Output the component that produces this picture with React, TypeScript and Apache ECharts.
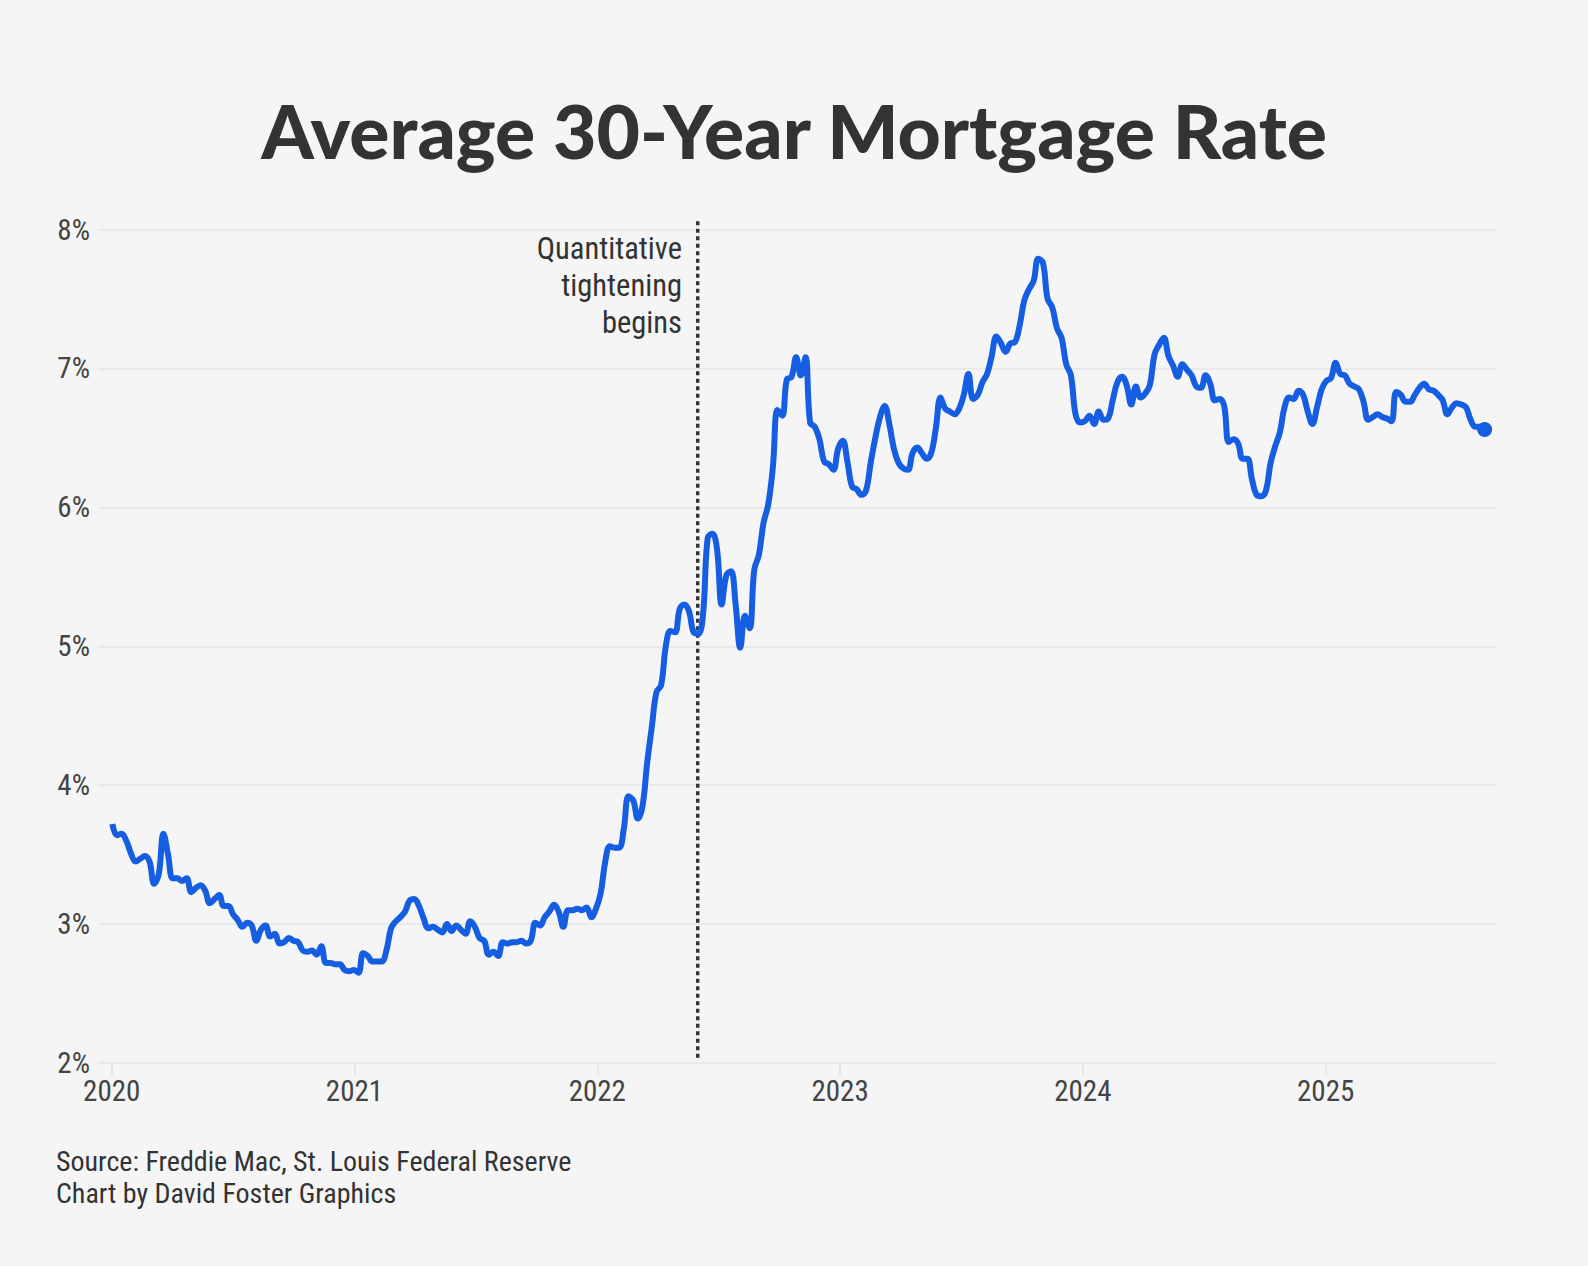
import React, { useEffect, useRef } from "react";
import * as echarts from "echarts";

// Freddie Mac PMMS weekly 30-year fixed rate (%), Thursdays starting 2020-01-02
const START_DATE = "2020-01-02";
const rates2020 = [3.72, 3.64, 3.65, 3.60, 3.51, 3.45, 3.47, 3.49, 3.45, 3.29, 3.36, 3.65, 3.50, 3.33, 3.33, 3.31, 3.33, 3.23, 3.26, 3.28, 3.24, 3.15, 3.18, 3.21, 3.13, 3.13, 3.07, 3.03, 2.98, 3.01, 2.99, 2.88, 2.96, 2.99, 2.91, 2.93, 2.86, 2.87, 2.90, 2.88, 2.87, 2.81, 2.80, 2.81, 2.78, 2.84, 2.72, 2.72, 2.71, 2.71, 2.67, 2.66, 2.67];
const rates2021 = [2.65, 2.79, 2.77, 2.73, 2.73, 2.73, 2.81, 2.97, 3.02, 3.05, 3.09, 3.17, 3.18, 3.13, 3.04, 2.97, 2.98, 2.96, 2.94, 3.00, 2.95, 2.99, 2.96, 2.93, 3.02, 2.98, 2.90, 2.88, 2.78, 2.80, 2.77, 2.87, 2.86, 2.87, 2.87, 2.88, 2.86, 2.88, 3.01, 2.99, 3.05, 3.09, 3.14, 3.09, 2.98, 3.10, 3.10, 3.11, 3.10, 3.12, 3.05, 3.11];
const rates2022 = [3.22, 3.45, 3.56, 3.55, 3.55, 3.69, 3.92, 3.89, 3.76, 3.85, 4.16, 4.42, 4.67, 4.72, 5.00, 5.11, 5.10, 5.27, 5.30, 5.25, 5.10, 5.09, 5.23, 5.78, 5.81, 5.70, 5.30, 5.51, 5.54, 5.30, 4.99, 5.22, 5.13, 5.55, 5.66, 5.89, 6.02, 6.29, 6.70, 6.66, 6.92, 6.94, 7.08, 6.95, 7.08, 6.61, 6.58, 6.49, 6.33, 6.31, 6.27, 6.42];
const rates2023 = [6.48, 6.33, 6.15, 6.13, 6.09, 6.12, 6.32, 6.50, 6.65, 6.73, 6.60, 6.42, 6.32, 6.28, 6.27, 6.39, 6.43, 6.39, 6.35, 6.39, 6.57, 6.79, 6.71, 6.69, 6.67, 6.71, 6.81, 6.96, 6.78, 6.81, 6.90, 6.96, 7.09, 7.23, 7.18, 7.12, 7.18, 7.19, 7.31, 7.49, 7.57, 7.63, 7.79, 7.76, 7.50, 7.44, 7.29, 7.22, 7.03, 6.95, 6.67, 6.61];
const rates2024 = [6.62, 6.66, 6.60, 6.69, 6.63, 6.64, 6.77, 6.90, 6.94, 6.88, 6.74, 6.87, 6.79, 6.82, 6.88, 7.10, 7.17, 7.22, 7.09, 7.02, 6.94, 7.03, 6.99, 6.95, 6.87, 6.86, 6.95, 6.89, 6.77, 6.78, 6.73, 6.47, 6.49, 6.46, 6.35, 6.35, 6.20, 6.09, 6.08, 6.12, 6.32, 6.44, 6.54, 6.72, 6.79, 6.78, 6.84, 6.81, 6.69, 6.60, 6.72, 6.85];
const rates2025 = [6.91, 6.93, 7.04, 6.96, 6.95, 6.89, 6.87, 6.85, 6.76, 6.63, 6.65, 6.67, 6.65, 6.64, 6.62, 6.83, 6.81, 6.76, 6.76, 6.81, 6.86, 6.89, 6.85, 6.84, 6.81, 6.77, 6.67, 6.72, 6.75, 6.74, 6.72, 6.63, 6.58, 6.58, 6.56];

const yearTicks = [2020, 2021, 2022, 2023, 2024, 2025];
const QT_DATE = "2022-06-01";
const QT_LINE_RANGE = [2.03, 8.06];
const QT_LABEL = "Quantitative\ntightening\nbegins";
const TITLE = "Average 30-Year Mortgage Rate";
const SOURCE_LINES = ["Source: Freddie Mac, St. Louis Federal Reserve", "Chart by David Foster Graphics"];

const X_MIN = 2019.9436;
const X_MAX = 2025.7016;

const BLUE = "#155ee2";
const LABEL_FONT = "'Roboto Condensed', 'Liberation Sans Narrow', 'DejaVu Sans Condensed', Roboto, sans-serif";

function decYear(t: number): number {
  const d = new Date(t);
  const y = d.getUTCFullYear();
  const s = Date.UTC(y, 0, 1);
  const e = Date.UTC(y + 1, 0, 1);
  return y + (t - s) / (e - s);
}

export default function App() {
  const ref = useRef<HTMLDivElement>(null);

  useEffect(() => {
    document.body.style.margin = "0";
    const rates = [...rates2020, ...rates2021, ...rates2022, ...rates2023, ...rates2024, ...rates2025];
    const t0 = Date.parse(START_DATE + "T00:00:00Z");
    const week = 7 * 86400000;
    const points = rates.map((r, i) => [decYear(t0 + i * week), r]);
    const last = points[points.length - 1];
    const qtX = decYear(Date.parse(QT_DATE + "T00:00:00Z"));

    const chart = echarts.init(ref.current as HTMLDivElement, null, { renderer: "svg" });
    chart.setOption({
      animation: false,
      backgroundColor: "#f5f5f5",
      title: {
        text: TITLE,
        left: "center",
        top: 87,
        textStyle: { fontFamily: "Lato, 'Noto Sans', sans-serif", fontWeight: 900, fontSize: 75, color: "#333333" },
      },
      grid: { left: 98, right: 92, top: 229.5, bottom: 203, containLabel: false },
      xAxis: {
        type: "value",
        min: X_MIN,
        max: X_MAX,
        axisLine: { show: false },
        splitLine: { show: false },
        axisTick: { show: true, customValues: yearTicks, length: 12, lineStyle: { color: "#e6e6e6", width: 2 } },
        axisLabel: {
          customValues: yearTicks,
          formatter: (v: number) => String(Math.round(v)),
          fontFamily: LABEL_FONT,
          fontSize: 29,
          color: "#444444",
          margin: 13,
        },
      },
      yAxis: {
        type: "value",
        min: 2,
        max: 8,
        interval: 1,
        axisLine: { show: false },
        axisTick: { show: false },
        splitLine: { lineStyle: { color: "#eaeaea", width: 2 } },
        axisLabel: { formatter: "{value}%", fontFamily: LABEL_FONT, fontSize: 29, color: "#444444", margin: 8 },
      },
      series: [
        {
          type: "line",
          data: points,
          symbol: "none",
          smooth: 0.4,
          lineStyle: { color: BLUE, width: 6 },
          z: 3,
        },
        {
          type: "scatter",
          data: [last],
          symbolSize: 15,
          itemStyle: { color: BLUE, opacity: 1 },
          z: 4,
        },
      ],
      graphic: [
        {
          type: "text",
          x: 682,
          y: 230,
          style: {
            text: QT_LABEL,
            align: "right",
            verticalAlign: "top",
            fontFamily: LABEL_FONT,
            fontSize: 30.5,
            lineHeight: 37,
            fill: "#333333",
          },
        },
        {
          type: "text",
          x: 56,
          y: 1145,
          style: {
            text: SOURCE_LINES.join("\n"),
            align: "left",
            verticalAlign: "top",
            fontFamily: LABEL_FONT,
            fontSize: 28,
            lineHeight: 32,
            fill: "#333333",
          },
        },
      ],
    });

    // QT reference line, placed through the chart's own scales
    const top = chart.convertToPixel({ gridIndex: 0 }, [qtX, QT_LINE_RANGE[1]]) as number[];
    const bot = chart.convertToPixel({ gridIndex: 0 }, [qtX, QT_LINE_RANGE[0]]) as number[];
    chart.setOption({
      graphic: [
        {},
        {},
        {
          type: "line",
          z: 2,
          shape: { x1: top[0], y1: top[1], x2: bot[0], y2: bot[1] },
          style: { stroke: "#333333", lineWidth: 3.5, lineDash: [4, 3.5] },
        },
      ],
    });
    return () => chart.dispose();
  }, []);

  return <div ref={ref} style={{ width: 1588, height: 1266 }} />;
}
